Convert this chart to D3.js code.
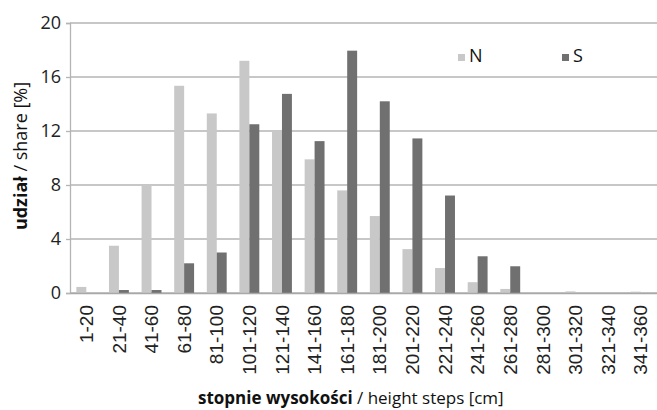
<!DOCTYPE html>
<html><head><meta charset="utf-8">
<script src="https://cdn.jsdelivr.net/npm/d3@7"></script>
<style>body{margin:0;background:#fff}svg{display:block}</style>
</head><body><svg id="c" width="657" height="410"></svg>
<script>
const categories = ["1-20","21-40","41-60","61-80","81-100","101-120","121-140","141-160","161-180","181-200","201-220","221-240","241-260","261-280","281-300","301-320","321-340","341-360"];
const seriesN = [0.45,3.5,8.0,15.35,13.3,17.2,12.05,9.9,7.6,5.7,3.25,1.85,0.8,0.3,0,0.12,0,0.1];
const seriesS = [0,0.22,0.22,2.2,3.0,12.5,14.75,11.25,17.95,14.2,11.45,7.22,2.72,1.98,0,0,0,0];
const yTicks = [0,4,8,12,16,20];
const seriesNames = ["N","S"];
const colors = ["#c8c8c8","#707070"];

const svg = d3.select("#c");
const m = {l:70, r:0, t:23, b:117};
const W = 657, H = 410;
const x = d3.scaleBand().domain(categories).range([m.l, W - m.r]).paddingInner(0.39).paddingOuter(0.195);
const xs = d3.scaleBand().domain(seriesNames).range([0, x.bandwidth()]);
const y = d3.scaleLinear().domain([0,20]).range([H - m.b, m.t]);

// gridlines
svg.append("g").selectAll("line").data(yTicks).join("line")
  .attr("x1", m.l).attr("x2", W).attr("y1", d=>y(d)).attr("y2", d=>y(d))
  .attr("stroke", "#b4b4b4").attr("stroke-width", 1.3);

// bars
const data = categories.map((c,i)=>({c, v:[seriesN[i], seriesS[i]]}));
const g = svg.append("g");
g.selectAll("g").data(data).join("g")
  .attr("transform", d=>`translate(${x(d.c)},0)`)
  .selectAll("rect").data(d=>d.v.map((v,j)=>({k:seriesNames[j], v, j})))
  .join("rect")
  .attr("x", d=>xs(d.k)).attr("width", xs.bandwidth())
  .attr("y", d=>y(d.v)).attr("height", d=>y(0)-y(d.v))
  .attr("fill", d=>colors[d.j]);

// y axis
const ya = svg.append("g").attr("transform", `translate(${m.l},0)`)
  .call(d3.axisLeft(y).tickValues(yTicks).tickSize(4).tickPadding(5));
ya.select(".domain").attr("stroke", "#b4b4b4").attr("stroke-width", 1.3);
ya.selectAll(".tick line").attr("stroke", "#b4b4b4").attr("stroke-width", 1.3);
ya.selectAll(".tick text").attr("font-family", "'Open Sans', sans-serif").attr("font-size", 18).attr("fill", "#222");

// x axis
const xa = svg.append("g").attr("transform", `translate(0,${y(0)})`)
  .call(d3.axisBottom(x).tickSize(0).tickPadding(0));
xa.select(".domain").attr("stroke", "#a8a8a8").attr("stroke-width", 1.5);
xa.selectAll(".tick text")
  .attr("font-family", "'Liberation Sans', Arial, sans-serif").attr("font-size", 19).attr("fill", "#222")
  .attr("transform", "rotate(-90)")
  .attr("text-anchor", "end").attr("x", -12).attr("y", 0).attr("dy", "0.35em");

// axis titles
const yt = svg.append("text").attr("transform", "translate(27,156) rotate(-90)")
  .attr("text-anchor", "middle").attr("font-family", "'Open Sans', sans-serif").attr("font-size", 18).attr("fill", "#111");
yt.append("tspan").attr("font-weight", "bold").text("udział");
yt.append("tspan").text(" / share [%]");

const xt = svg.append("text").attr("x", 198).attr("y", 404)
  .attr("text-anchor", "start").attr("font-family", "'Open Sans', sans-serif").attr("font-size", 17).attr("fill", "#111");
xt.append("tspan").attr("font-weight", "bold").text("stopnie wysokości");
xt.append("tspan").text(" / height steps [cm]");

// legend
const legX = [458, 562];
const lg = svg.append("g").selectAll("g").data(seriesNames).join("g")
  .attr("transform", (d,i)=>`translate(${legX[i]},54)`);
lg.append("rect").attr("width", 7).attr("height", 7).attr("fill", (d,i)=>colors[i]);
lg.append("text").attr("x", 11).attr("y", 7.5).attr("font-family", "'Open Sans', sans-serif")
  .attr("font-size", 18).attr("fill", "#111").text(d=>d);
</script></body></html>
